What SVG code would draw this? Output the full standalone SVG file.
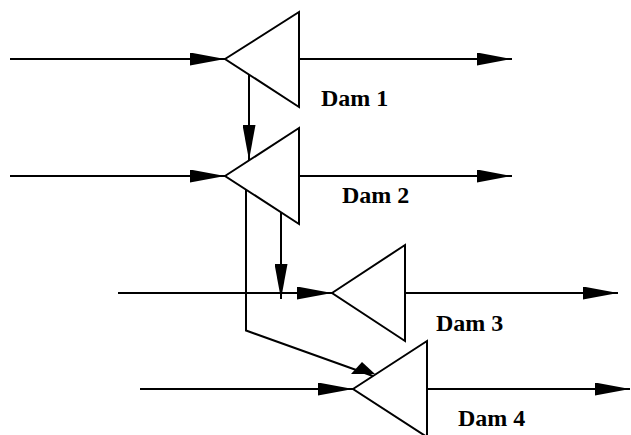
<svg xmlns="http://www.w3.org/2000/svg" width="631" height="435" viewBox="0 0 631 435">
  <style>
    .flow { fill: none; stroke: #000; stroke-width: 2; marker-end: url(#head); }
    .plain { fill: none; stroke: #000; stroke-width: 2; }
    .dam { fill: #fff; stroke: #000; stroke-width: 2; stroke-linejoin: miter; }
    .label { font-family: "Liberation Serif", "Times New Roman", serif; font-weight: bold; font-size: 24px; fill: #000; }
    .tip { fill: #000; }
  </style>
  <defs>
    <marker id="head" markerUnits="userSpaceOnUse" markerWidth="36" markerHeight="13" refX="35" refY="6.5" orient="auto">
      <path d="M0,0 L35,6.5 L0,13 Z" fill="#000"/>
    </marker>
  </defs>
  <rect width="631" height="435" fill="#fff"/>

  <!-- river channels and spillway links -->
  <g id="connectors">
    <line class="flow" x1="10" y1="59" x2="225" y2="59"/>
    <line class="flow" x1="299" y1="59" x2="512" y2="59"/>
    <line class="flow" x1="249" y1="75" x2="249" y2="160"/>
    <line class="flow" x1="10" y1="176" x2="225" y2="176"/>
    <line class="flow" x1="299" y1="176" x2="512" y2="176"/>
    <line class="flow" x1="281" y1="212" x2="281" y2="299"/>
    <polyline class="plain" points="246,190 246,330.5 373,376"/>
    <polygon class="tip" points="351,374 362,362 375,374"/>
    <line class="flow" x1="118" y1="293" x2="332" y2="293"/>
    <line class="flow" x1="405" y1="293" x2="618" y2="293"/>
    <line class="flow" x1="140" y1="389" x2="353" y2="389"/>
    <line class="flow" x1="427" y1="389" x2="630" y2="389"/>
  </g>

  <g id="dam1">
    <polygon class="dam" points="225,59 299,12 299,107"/>
    <text class="label" x="321" y="106">Dam 1</text>
  </g>
  <g id="dam2">
    <polygon class="dam" points="225,176 299,128 299,224"/>
    <text class="label" x="342" y="203">Dam 2</text>
  </g>
  <g id="dam3">
    <polygon class="dam" points="332,293 405,245 405,341"/>
    <text class="label" x="436" y="331">Dam 3</text>
  </g>
  <g id="dam4">
    <polygon class="dam" points="353,389 427,341 427,437"/>
    <text class="label" x="458" y="426">Dam 4</text>
  </g>
</svg>
